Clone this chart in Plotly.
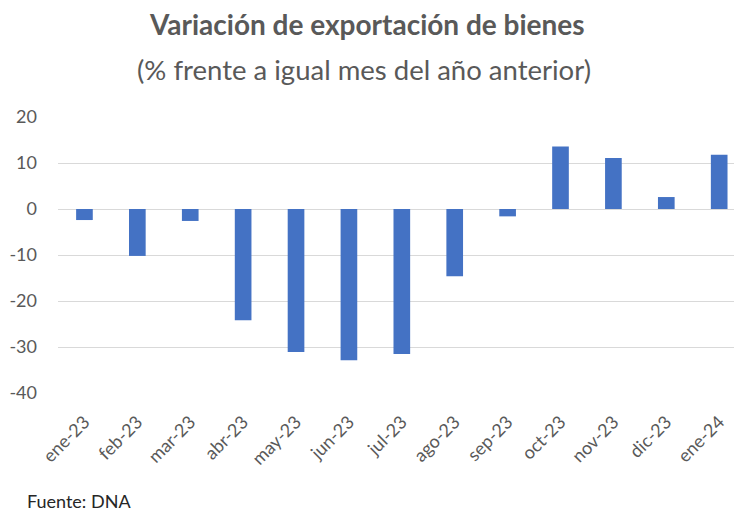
import plotly.graph_objects as go

categories = ["ene-23", "feb-23", "mar-23", "abr-23", "may-23", "jun-23", "jul-23",
              "ago-23", "sep-23", "oct-23", "nov-23", "dic-23", "ene-24"]
values = [-2.4, -10.2, -2.6, -24.2, -31.1, -32.9, -31.5, -14.6, -1.6, 13.6, 11.1, 2.6, 11.8]
y_ticks = [20, 10, 0, -10, -20, -30, -40]
y_tick_labels = ["20", "10", "0", "-10", "-20", "-30", "-40"]

title_line1 = "Variación de exportación de bienes"
title_line2 = "(% frente a igual mes del año anterior)"
source_note = "Fuente: DNA"

FONT = "Lato"
GRAY = "#595959"

W, H = 734, 511
ml, mr, mt, mb = 58, 0, 117, 118
plot_h = H - mt - mb


def ypaper(pix):
    return (H - mb - pix) / plot_h


def xpaper(pix):
    return (pix - ml) / (W - ml - mr)


fig = go.Figure(go.Bar(
    x=categories,
    y=values,
    marker=dict(color="#4472C4", line=dict(width=0)),
    hoverinfo="skip",
))

fig.update_layout(
    width=W, height=H,
    margin=dict(l=ml, r=mr, t=mt, b=mb, pad=0, autoexpand=False),
    paper_bgcolor="white",
    plot_bgcolor="white",
    bargap=0.685,
    showlegend=False,
    font=dict(family=FONT, color=GRAY),
)

fig.update_xaxes(
    type="category",
    range=[-0.5, 12.28],
    tickangle=-45,
    tickfont=dict(family=FONT, size=18, color=GRAY),
    showgrid=False,
    showline=False,
    ticks="",
    ticklabelstandoff=14,
    automargin=False,
)
fig.update_yaxes(
    range=[-40, 20],
    tickvals=y_ticks,
    ticktext=y_tick_labels,
    tickfont=dict(family=FONT, size=18, color=GRAY),
    showgrid=True,
    gridcolor="#D9D9D9",
    gridwidth=1.3,
    zeroline=False,
    showline=False,
    ticks="",
    ticklabelstandoff=20,
    automargin=False,
)

fig.add_annotation(
    text="<b>" + title_line1 + "</b>",
    xref="paper", yref="paper",
    x=xpaper(W / 2), y=ypaper(24),
    xanchor="center", yanchor="middle",
    showarrow=False,
    font=dict(family=FONT, size=28, color=GRAY),
)
fig.add_annotation(
    text=title_line2,
    xref="paper", yref="paper",
    x=xpaper(W / 2 - 3), y=ypaper(70),
    xanchor="center", yanchor="middle",
    showarrow=False,
    font=dict(family=FONT, size=27.5, color=GRAY),
)
fig.add_annotation(
    text=source_note,
    xref="paper", yref="paper",
    x=xpaper(25), y=ypaper(500.5),
    xanchor="left", yanchor="middle",
    showarrow=False,
    font=dict(family=FONT, size=18, color="#262626"),
)

fig.write_html("out.html", config={"displayModeBar": False},
               post_script="document.body.style.margin='0';")
